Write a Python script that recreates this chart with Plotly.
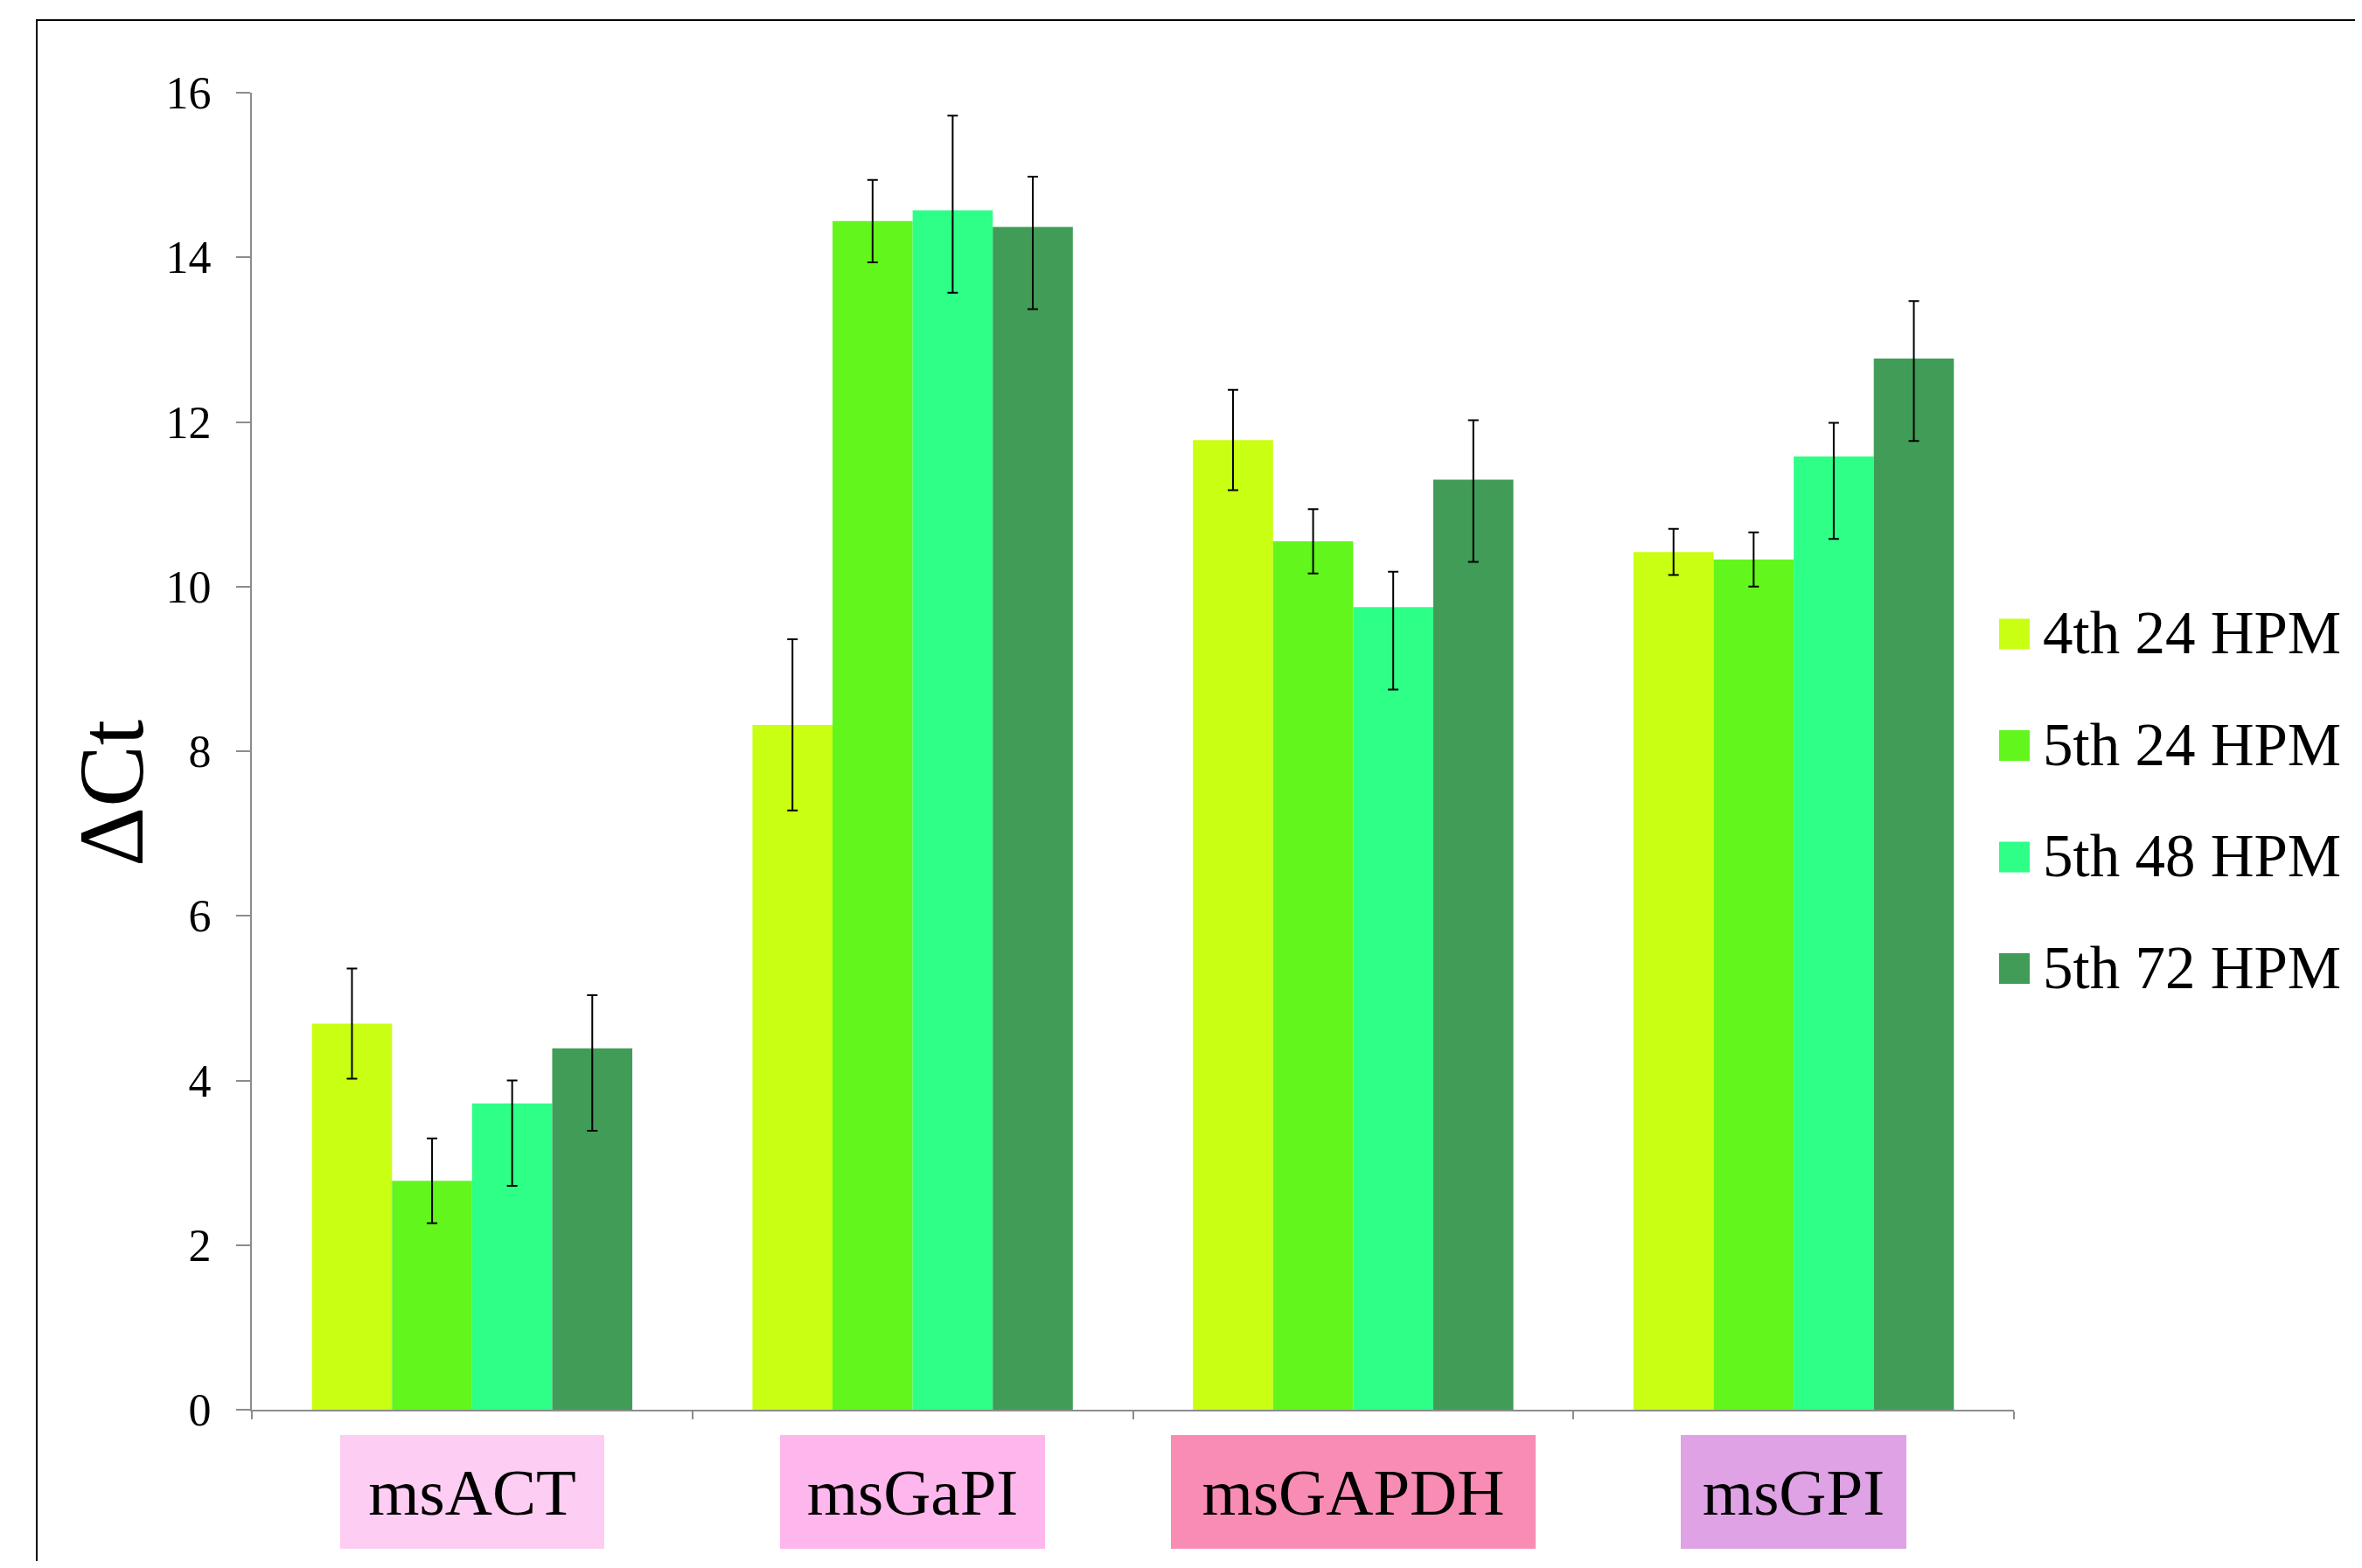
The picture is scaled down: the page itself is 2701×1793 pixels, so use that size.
import plotly.graph_objects as go

# ---- data ----
categories = ["msACT", "msGaPI", "msGAPDH", "msGPI"]
series_names = ["4th 24 HPM", "5th 24 HPM", "5th 48 HPM", "5th 72 HPM"]

v_4th24 = [4.69, 8.32, 11.78, 10.42]
v_5th24 = [2.78, 14.44, 10.55, 10.33]
v_5th48 = [3.72, 14.57, 9.75, 11.58]
v_5th72 = [4.39, 14.37, 11.30, 12.77]

ep_4th24 = [0.67, 1.04, 0.61, 0.28]
em_4th24 = [0.67, 1.04, 0.61, 0.28]
ep_5th24 = [0.515, 0.50, 0.39, 0.33]
em_5th24 = [0.515, 0.50, 0.39, 0.33]
ep_5th48 = [0.28, 1.15, 0.43, 0.41]
em_5th48 = [1.0, 1.0, 1.0, 1.0]
ep_5th72 = [0.645, 0.61, 0.72, 0.70]
em_5th72 = [1.0, 1.0, 1.0, 1.0]

y_ticks = [0, 2, 4, 6, 8, 10, 12, 14, 16]

# ---- styles ----
series_colors = ["#C9FF12", "#62F61C", "#2EFF87", "#419C57"]
label_colors = ["#FDCDF3", "#FDB7EC", "#F88CB4", "#DFA2E5"]
label_box_w = [302, 303, 417, 258]
FONT = "Liberation Serif, Times New Roman, serif"
AXIS_GRAY = "#8C8C8C"

values = [v_4th24, v_5th24, v_5th48, v_5th72]
err_plus = [ep_4th24, ep_5th24, ep_5th48, ep_5th72]
err_minus = [em_4th24, em_5th24, em_5th48, em_5th72]

fig = go.Figure()
for name, vals, ep, em, col in zip(series_names, values, err_plus, err_minus, series_colors):
    fig.add_trace(go.Bar(
        x=categories, y=vals, name=name,
        marker=dict(color=col, line=dict(width=0)),
        error_y=dict(type="data", symmetric=False, array=ep, arrayminus=em,
                     color="black", thickness=2, width=6),
        showlegend=False,
    ))

# page body has an 8px margin
OFF = 8
W, H = 2701 - 2 * OFF, 1793 - 2 * OFF
PW, PH = 2015, 1506
L, T = 288 - OFF, 106 - OFF
R, B = W - L - PW, H - T - PH

def px_x(x):
    return (x - OFF - L) / PW

def px_y(y):
    return (T + PH - (y - OFF)) / PH

annotations = []
shapes = []

# category label boxes
for cat, col, bw in zip(categories, label_colors, label_box_w):
    annotations.append(dict(
        x=cat, xref="x", y=px_y(1706), yref="paper",
        text=cat, showarrow=False, xanchor="center", yanchor="middle",
        bgcolor=col, width=bw, height=130, borderpad=0, borderwidth=0,
        font=dict(family=FONT, size=75, color="black"),
    ))

# y-axis title
annotations.append(dict(
    x=px_x(127), xref="paper", y=px_y(907), yref="paper",
    text="ΔCt", showarrow=False, textangle=-90,
    xanchor="center", yanchor="middle",
    font=dict(family=FONT, size=106, color="black"),
))

# legend (drawn manually to get large swatches)
leg_y0 = 725
leg_step = 127.5
for i, (name, col) in enumerate(zip(series_names, series_colors)):
    cy = leg_y0 + i * leg_step
    shapes.append(dict(
        type="rect", xref="paper", yref="paper",
        x0=px_x(2286), x1=px_x(2321), y0=px_y(cy + 17.5), y1=px_y(cy - 17.5),
        fillcolor=col, line=dict(width=0),
    ))
    annotations.append(dict(
        x=px_x(2334), xref="paper", y=px_y(cy - 1), yref="paper",
        text=name, showarrow=False, xanchor="left", yanchor="middle",
        font=dict(family=FONT, size=69, color="black"),
    ))

# outer frame
shapes.append(dict(
    type="rect", xref="paper", yref="paper",
    x0=px_x(42), x1=px_x(2760), y0=px_y(1850), y1=px_y(23),
    line=dict(color="black", width=2), fillcolor="rgba(0,0,0,0)",
))

fig.update_layout(
    width=W, height=H,
    margin=dict(l=L, r=R, t=T, b=B, pad=0),
    paper_bgcolor="white", plot_bgcolor="white",
    barmode="group", bargap=0.2727, bargroupgap=0,
    font=dict(family=FONT, color="black"),
    showlegend=False,
    annotations=annotations, shapes=shapes,
    xaxis=dict(
        type="category", showgrid=False, zeroline=False,
        showline=True, linecolor=AXIS_GRAY, linewidth=2,
        ticks="outside", tickson="boundaries", ticklen=9,
        tickcolor=AXIS_GRAY, tickwidth=2, showticklabels=False,
    ),
    yaxis=dict(
        range=[0, 16], tickvals=y_ticks, showgrid=False, zeroline=False,
        showline=True, linecolor=AXIS_GRAY, linewidth=2,
        ticks="outside", ticklen=16, tickcolor=AXIS_GRAY, tickwidth=2,
        tickfont=dict(family=FONT, size=52, color="black"),
        ticklabelstandoff=18,
    ),
)

fig.write_html("out.html")
